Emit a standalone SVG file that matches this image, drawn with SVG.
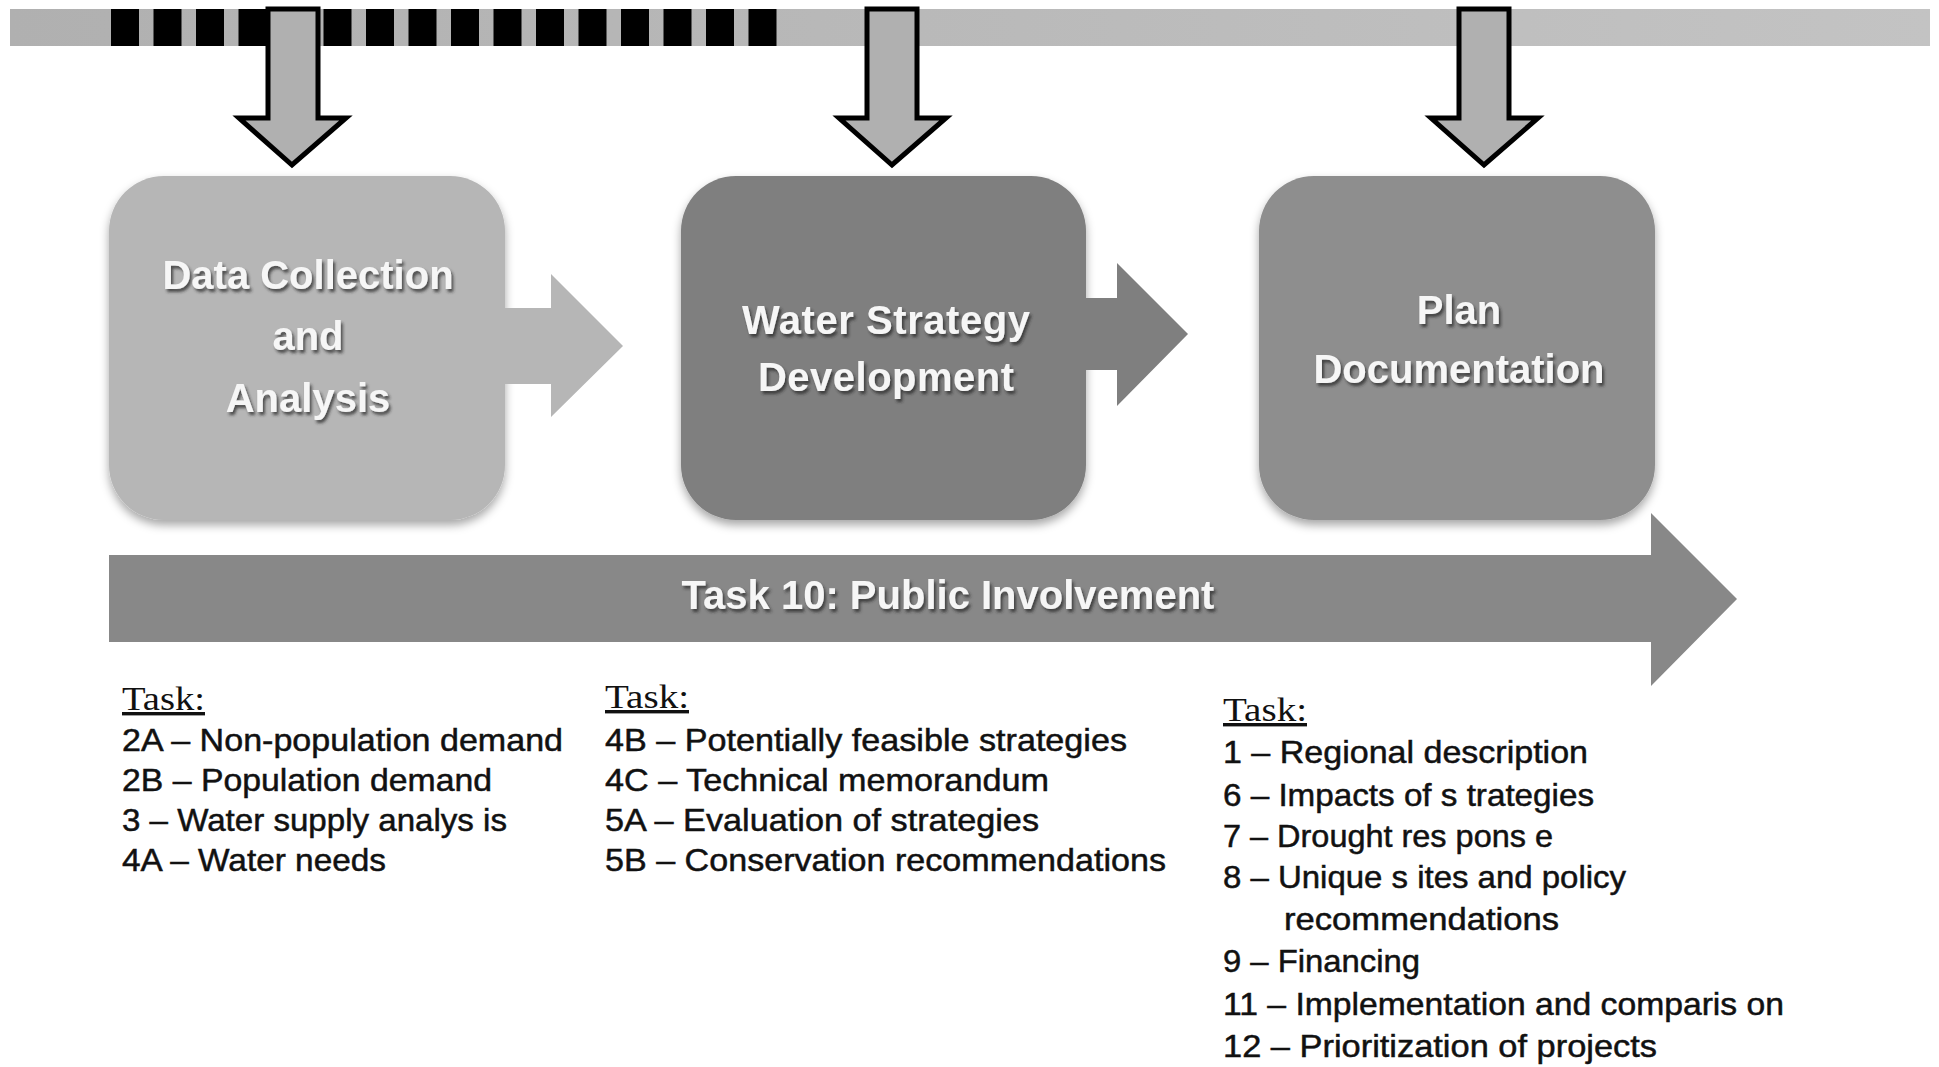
<svg xmlns="http://www.w3.org/2000/svg" width="1939" height="1067" viewBox="0 0 1939 1067">
<defs>
<linearGradient id="barGrad" x1="0" y1="0" x2="1" y2="0">
<stop offset="0" stop-color="#b0b0b0"/>
<stop offset="1" stop-color="#c3c3c3"/>
</linearGradient>
<filter id="boxShadow" x="-10%" y="-10%" width="120%" height="125%">
<feDropShadow dx="0" dy="5" stdDeviation="5" flood-color="#000" flood-opacity="0.35"/>
</filter>
<filter id="txtShadow" x="-5%" y="-20%" width="110%" height="150%">
<feDropShadow dx="2" dy="3" stdDeviation="1.5" flood-color="#2a2a2a" flood-opacity="0.75"/>
</filter>
</defs>
<style>
.dash{fill:#000}
.down{fill:#b0b0b0;stroke:#000;stroke-width:5;stroke-linejoin:miter;stroke-miterlimit:10}
.box{filter:url(#boxShadow)}
.title{font-family:"Liberation Sans",Arial,sans-serif;font-weight:bold;font-size:40px;fill:#f6f6f6;text-anchor:middle;filter:url(#txtShadow)}
.hdr{font-family:"Liberation Serif","Times New Roman",serif;font-size:34px;fill:#111;text-decoration:underline}
.item{font-family:"Liberation Sans",Arial,sans-serif;font-size:32px;fill:#111;stroke:#111;stroke-width:0.5}
</style>
<rect width="1939" height="1067" fill="#fff"/>

<g id="timeline-bar">
<rect x="10" y="9" width="1920" height="37" fill="url(#barGrad)"/>
<g id="dashes">
<rect class="dash" x="111" y="9" width="28" height="37"/>
<rect class="dash" x="153.5" y="9" width="28" height="37"/>
<rect class="dash" x="196" y="9" width="28" height="37"/>
<rect class="dash" x="238.5" y="9" width="28" height="37"/>
<rect class="dash" x="281" y="9" width="28" height="37"/>
<rect class="dash" x="323.5" y="9" width="28" height="37"/>
<rect class="dash" x="366" y="9" width="28" height="37"/>
<rect class="dash" x="408.5" y="9" width="28" height="37"/>
<rect class="dash" x="451" y="9" width="28" height="37"/>
<rect class="dash" x="493.5" y="9" width="28" height="37"/>
<rect class="dash" x="536" y="9" width="28" height="37"/>
<rect class="dash" x="578.5" y="9" width="28" height="37"/>
<rect class="dash" x="621" y="9" width="28" height="37"/>
<rect class="dash" x="663.5" y="9" width="28" height="37"/>
<rect class="dash" x="706" y="9" width="28" height="37"/>
<rect class="dash" x="748.5" y="9" width="28" height="37"/>
</g>
</g>

<g id="node-data-collection">
<rect class="box" x="109" y="176" width="396" height="344" rx="55" fill="#b6b6b6"/>
<text class="title" x="308" y="289">Data Collection</text>
<text class="title" x="308" y="350">and</text>
<text class="title" x="308" y="412">Analysis</text>
</g>

<g id="node-water-strategy">
<rect class="box" x="681" y="176" width="405" height="344" rx="55" fill="#7f7f7f"/>
<text class="title" x="886" y="334" textLength="288" lengthAdjust="spacing">Water Strategy</text>
<text class="title" x="886" y="391" textLength="256" lengthAdjust="spacing">Development</text>
</g>

<g id="node-plan-documentation">
<rect class="box" x="1259" y="176" width="396" height="344" rx="55" fill="#8e8e8e"/>
<text class="title" x="1459" y="324">Plan</text>
<text class="title" x="1459" y="383">Documentation</text>
</g>

<g id="connectors">
<polygon points="268,9 318,9 318,118 346,118 292,165 239,118 268,118" class="down"/>
<polygon points="867,9 917,9 917,118 946,118 892,165 839,118 867,118" class="down"/>
<polygon points="1459,9 1509,9 1509,118 1538,118 1484,165 1431,118 1459,118" class="down"/>
<polygon points="503,308 551,308 551,274 623,346 551,417 551,384 503,384" fill="#b6b6b6"/>
<polygon points="1084,298 1117,298 1117,263 1188,334 1117,406 1117,370 1084,370" fill="#7f7f7f"/>
</g>

<g id="node-public-involvement">
<polygon points="109,555 1651,555 1651,513 1737,599 1651,686 1651,642 109,642" fill="#888888"/>
<text class="title" x="948" y="609">Task 10: Public Involvement</text>
</g>

<g id="tasks-data-collection">
<text class="hdr" x="122" y="710" textLength="83" lengthAdjust="spacingAndGlyphs">Task:</text>
<text class="item" x="122" y="751" textLength="441" lengthAdjust="spacingAndGlyphs">2A – Non-population  demand</text>
<text class="item" x="122" y="791" textLength="370" lengthAdjust="spacingAndGlyphs">2B – Population  demand</text>
<text class="item" x="122" y="831" textLength="385" lengthAdjust="spacingAndGlyphs">3 – Water supply analys is</text>
<text class="item" x="122" y="871" textLength="264" lengthAdjust="spacingAndGlyphs">4A – Water needs</text>
</g>

<g id="tasks-water-strategy">
<text class="hdr" x="605" y="708" textLength="84" lengthAdjust="spacingAndGlyphs">Task:</text>
<text class="item" x="605" y="751" textLength="522" lengthAdjust="spacingAndGlyphs">4B – Potentially  feasible strategies</text>
<text class="item" x="605" y="791" textLength="444" lengthAdjust="spacingAndGlyphs">4C – Technical memorandum</text>
<text class="item" x="605" y="831" textLength="434" lengthAdjust="spacingAndGlyphs">5A – Evaluation  of strategies</text>
<text class="item" x="605" y="871" textLength="561" lengthAdjust="spacingAndGlyphs">5B – Conservation  recommendations</text>
</g>

<g id="tasks-plan-documentation">
<text class="hdr" x="1223" y="721" textLength="84" lengthAdjust="spacingAndGlyphs">Task:</text>
<text class="item" x="1223" y="763" textLength="365" lengthAdjust="spacingAndGlyphs">1 – Regional description</text>
<text class="item" x="1223" y="806" textLength="371" lengthAdjust="spacingAndGlyphs">6 – Impacts of s trategies</text>
<text class="item" x="1223" y="847" textLength="330" lengthAdjust="spacingAndGlyphs">7 – Drought res pons e</text>
<text class="item" x="1223" y="888" textLength="403" lengthAdjust="spacingAndGlyphs">8 – Unique s ites and policy</text>
<text class="item" x="1284" y="930" textLength="275" lengthAdjust="spacingAndGlyphs">recommendations</text>
<text class="item" x="1223" y="972" textLength="197" lengthAdjust="spacingAndGlyphs">9 – Financing</text>
<text class="item" x="1223" y="1015" textLength="561" lengthAdjust="spacingAndGlyphs">11 – Implementation and comparis on</text>
<text class="item" x="1223" y="1057" textLength="434" lengthAdjust="spacingAndGlyphs">12 – Prioritization of projects</text>
</g>
</svg>
